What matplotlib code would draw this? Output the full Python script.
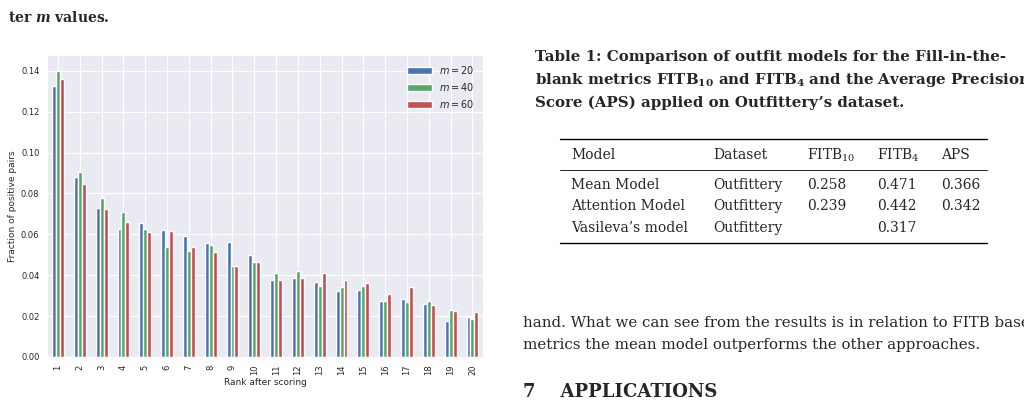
import matplotlib
matplotlib.use("Agg")
import matplotlib.pyplot as plt
import numpy as np
import seaborn as sns

ranks = [str(i) for i in range(1, 21)]
m20 = [0.1328, 0.088, 0.0727, 0.0625, 0.0655, 0.0622, 0.0593, 0.056, 0.0563, 0.050,
       0.0377, 0.0384, 0.0367, 0.0325, 0.0328, 0.0272, 0.0285, 0.0259, 0.0175, 0.0197]
m40 = [0.140, 0.0903, 0.078, 0.0707, 0.0625, 0.054, 0.052, 0.0548, 0.0446, 0.0465,
       0.041, 0.042, 0.0347, 0.0344, 0.0347, 0.0272, 0.0269, 0.0272, 0.023, 0.0184]
m60 = [0.136, 0.0845, 0.0723, 0.0662, 0.0610, 0.0615, 0.054, 0.0512, 0.0443, 0.0465,
       0.0377, 0.0387, 0.041, 0.0375, 0.0364, 0.0308, 0.0341, 0.0252, 0.0226, 0.022]
labels = ["$m = 20$", "$m = 40$", "$m = 60$"]
colors = ["#4C72B0", "#55A868", "#C44E52"]

sns.set_style("darkgrid")
plt.rcParams['font.family'] = ['DejaVu Sans']

fig = plt.figure(figsize=(10.24, 4.15), dpi=100)
ax = fig.add_axes([0.046, 0.14, 0.426, 0.727])
x = np.arange(len(ranks))
w = 0.54 / 3
for i, (vals, lab, c) in enumerate(zip([m20, m40, m60], labels, colors)):
    ax.bar(x + (i - 1) * w, vals, w, color=c, label=lab)
ax.set_xlim(-0.5, len(ranks) - 0.5)
ax.set_ylim(0, 0.1477)
ax.set_xticks(x)
ax.set_xticklabels(ranks, rotation=90, fontsize=6)
ax.set_yticks(np.arange(0, 0.141, 0.02))
ax.set_yticklabels([f"{v:.2f}" for v in np.arange(0, 0.141, 0.02)], fontsize=6)
ax.tick_params(pad=2)
ax.set_xlabel("Rank after scoring", fontsize=6.5, labelpad=2)
ax.set_ylabel("Fraction of positive pairs", fontsize=6.5, labelpad=3)
ax.legend(fontsize=7, frameon=False, loc="upper right", handlelength=2.5)

serif = ['DejaVu Serif']
plt.rcParams['mathtext.fontset'] = 'dejavuserif'
fig.text(8/1024, 1-18/415, "ter $\\mathbfit{m}$ values.", fontsize=10, fontweight='bold', family=serif, va='center')

cap = ["Table 1: Comparison of outfit models for the Fill-in-the-",
       "blank metrics FITB$_{\\mathbf{10}}$ and FITB$_{\\mathbf{4}}$ and the Average Precision",
       "Score (APS) applied on Outfittery’s dataset."]
for k, t in enumerate(cap):
    fig.text(535/1024, 1-(57+23*k)/415, t, fontsize=10.8, fontweight='bold', family=serif, va='center')

def hline(y, lw):
    fig.add_artist(plt.Line2D([560/1024, 987/1024], [1-y/415, 1-y/415], color='black', lw=lw))
hline(139, 1.0); hline(170, 0.6); hline(243, 1.0)
cols_x = [571, 713, 807, 877, 941]
rows = [["Model", "Dataset", "FITB$_{10}$", "FITB$_4$", "APS"],
        ["Mean Model", "Outfittery", "0.258", "0.471", "0.366"],
        ["Attention Model", "Outfittery", "0.239", "0.442", "0.342"],
        ["Vasileva’s model", "Outfittery", "", "0.317", ""]]
rows_y = [155, 185, 206, 228]
for r, yy in zip(rows, rows_y):
    for cx, t in zip(cols_x, r):
        fig.text(cx/1024, 1-yy/415, t, fontsize=10, family=serif, va='center')

fig.text(523/1024, 1-323/415, "hand. What we can see from the results is in relation to FITB based",
         fontsize=10.8, family=serif, va='center')
fig.text(523/1024, 1-345/415, "metrics the mean model outperforms the other approaches.",
         fontsize=10.8, family=serif, va='center')
fig.text(523/1024, 1-392/415, "7    APPLICATIONS", fontsize=13, fontweight='bold', family=serif, va='center')

fig.savefig("out.png", dpi=100)
